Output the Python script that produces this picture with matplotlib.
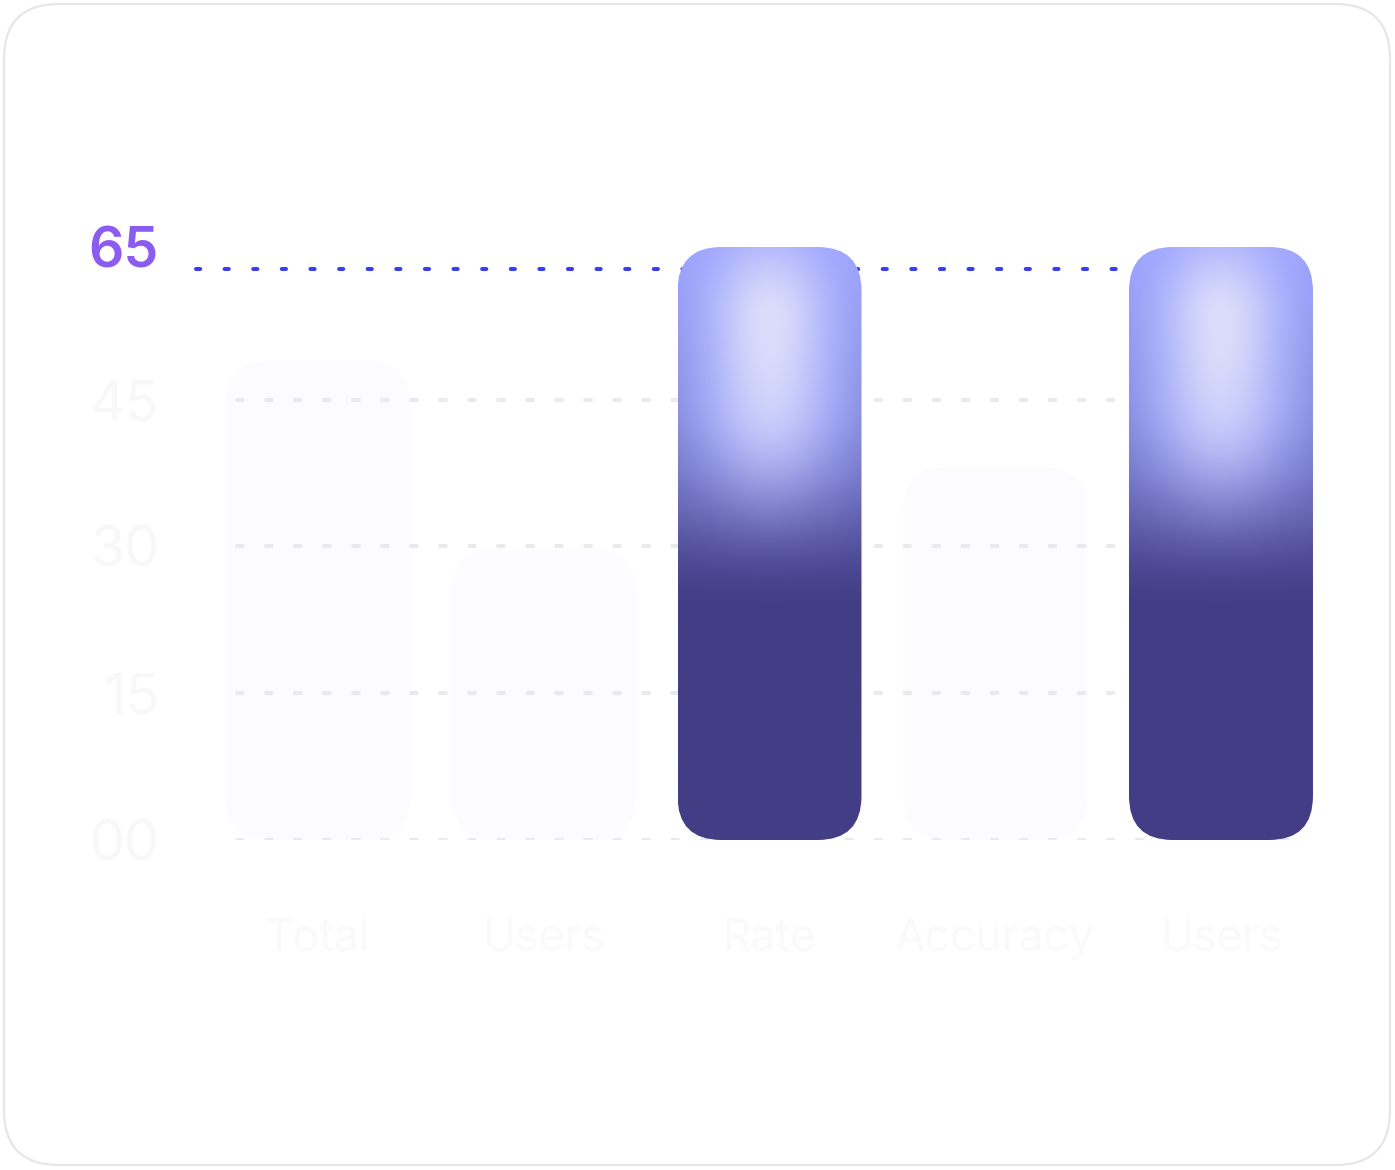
import matplotlib.pyplot as plt
import matplotlib.transforms as mtransforms
import numpy as np
from matplotlib.patches import FancyBboxPatch

plt.rcParams["font.family"] = ["Inter", "DejaVu Sans"]
plt.rcParams["lines.scale_dashes"] = False

categories = ["Total", "Users", "Rate", "Accuracy", "Users"]
values = [48.9, 29.7, 60.6, 38.1, 60.6]
highlighted = [False, False, True, False, True]
y_ticks = [0, 15, 30, 45]
y_tick_labels = ["00", "15", "30", "45"]
highlight_level = 58.3
highlight_label = "65"

W, H = 1395, 1170
fig = plt.figure(figsize=(W / 100, H / 100), dpi=100)
fig.patch.set_facecolor("white")

# card outline in pixel coords
card = FancyBboxPatch(
    (4, 5), 1386, 1161,
    boxstyle="round,pad=0,rounding_size=55",
    facecolor="white", edgecolor="#e6e6e6", linewidth=1.6,
    transform=mtransforms.IdentityTransform(), zorder=0,
)
fig.add_artist(card)

ax = fig.add_axes([160 / W, 330 / H, 1219 / W, 685 / H])
ax.set_xlim(-0.7, 4.7)
ax.set_ylim(0, 70)
ax.patch.set_alpha(0)
for s in ax.spines.values():
    s.set_visible(False)

px_x = 1219 / 5.4       # pixels per x unit
px_y = 685 / 70         # pixels per y unit
bar_w = 0.815
radius = 44 / px_x
aspect = px_x / px_y

# grid dots
for yt in y_ticks:
    ax.plot([-0.36, 4.4], [yt, yt], color="#eaeaed", lw=3.0,
            dashes=(4.0, 16.9), dash_capstyle="round", zorder=2)

# highlight line
ax.plot([-0.54, 4.4], [highlight_level, highlight_level], color="#3a3df2",
        lw=2.9, dashes=(3.0, 17.6), dash_capstyle="round", zorder=2)


def gradient_image(nx=120, ny=400):
    u = np.linspace(0, 1, nx)[None, :]
    t = np.linspace(0, 1, ny)[:, None]
    blue = np.array([0.60, 0.63, 1.0])
    dark = np.array([0x43, 0x3d, 0x86]) / 255
    glow = np.array([0.88, 0.89, 0.98])
    s = np.clip((t - 0.26) / (0.62 - 0.26), 0, 1)
    s = s * s * (3 - 2 * s)
    base = blue * (1 - s[..., None]) + dark * s[..., None]
    # slightly darker side edges in the transition band only
    edge = np.abs(u - 0.5) * 2
    band = np.clip(t * 3, 0, 1) * (1 - s)
    base = base * (1 - 0.14 * (edge ** 2 * band)[..., None])
    sig_t = np.where(t < 0.12, 0.13, 0.32)
    g = np.exp(-((u - 0.5) / 0.32) ** 2 - ((t - 0.12) / sig_t) ** 2) * 0.92
    g = g * np.clip(1 - s * 1.05, 0, 1)
    base = np.broadcast_to(base, (ny, nx, 3))
    img = base * (1 - g[..., None]) + glow * g[..., None]
    return np.clip(img, 0, 1)


grad = gradient_image()

for i, (v, hl) in enumerate(zip(values, highlighted)):
    x0 = i - bar_w / 2
    patch = FancyBboxPatch(
        (x0, 0), bar_w, v,
        boxstyle=f"round,pad=0,rounding_size={radius}",
        mutation_aspect=aspect,
        facecolor="#fcfbff" if not hl else "none",
        edgecolor="none", zorder=3 if hl else 1,
    )
    ax.add_patch(patch)
    if hl:
        im = ax.imshow(grad, extent=(x0, x0 + bar_w, 0, v), origin="upper",
                       aspect="auto", interpolation="bilinear", zorder=3)
        im.set_clip_path(patch)

ax.set_xlim(-0.7, 4.7)
ax.set_ylim(0, 70)

ax.set_yticks(y_ticks)
ax.set_yticklabels(y_tick_labels, fontsize=40, color="#f8f8f9")
ax.set_xticks(range(len(categories)))
ax.set_xticklabels(categories, fontsize=32, color="#fafafa")
ax.tick_params(axis="y", length=0, pad=0.5)
ax.tick_params(axis="x", length=0, pad=56)

ax.text(-0.705, highlight_level + 0.25, highlight_label, ha="right", va="baseline",
        fontsize=40, fontweight="semibold", color="#8b5cf0", zorder=4)

fig.savefig("out.png", dpi=100, facecolor="white")
